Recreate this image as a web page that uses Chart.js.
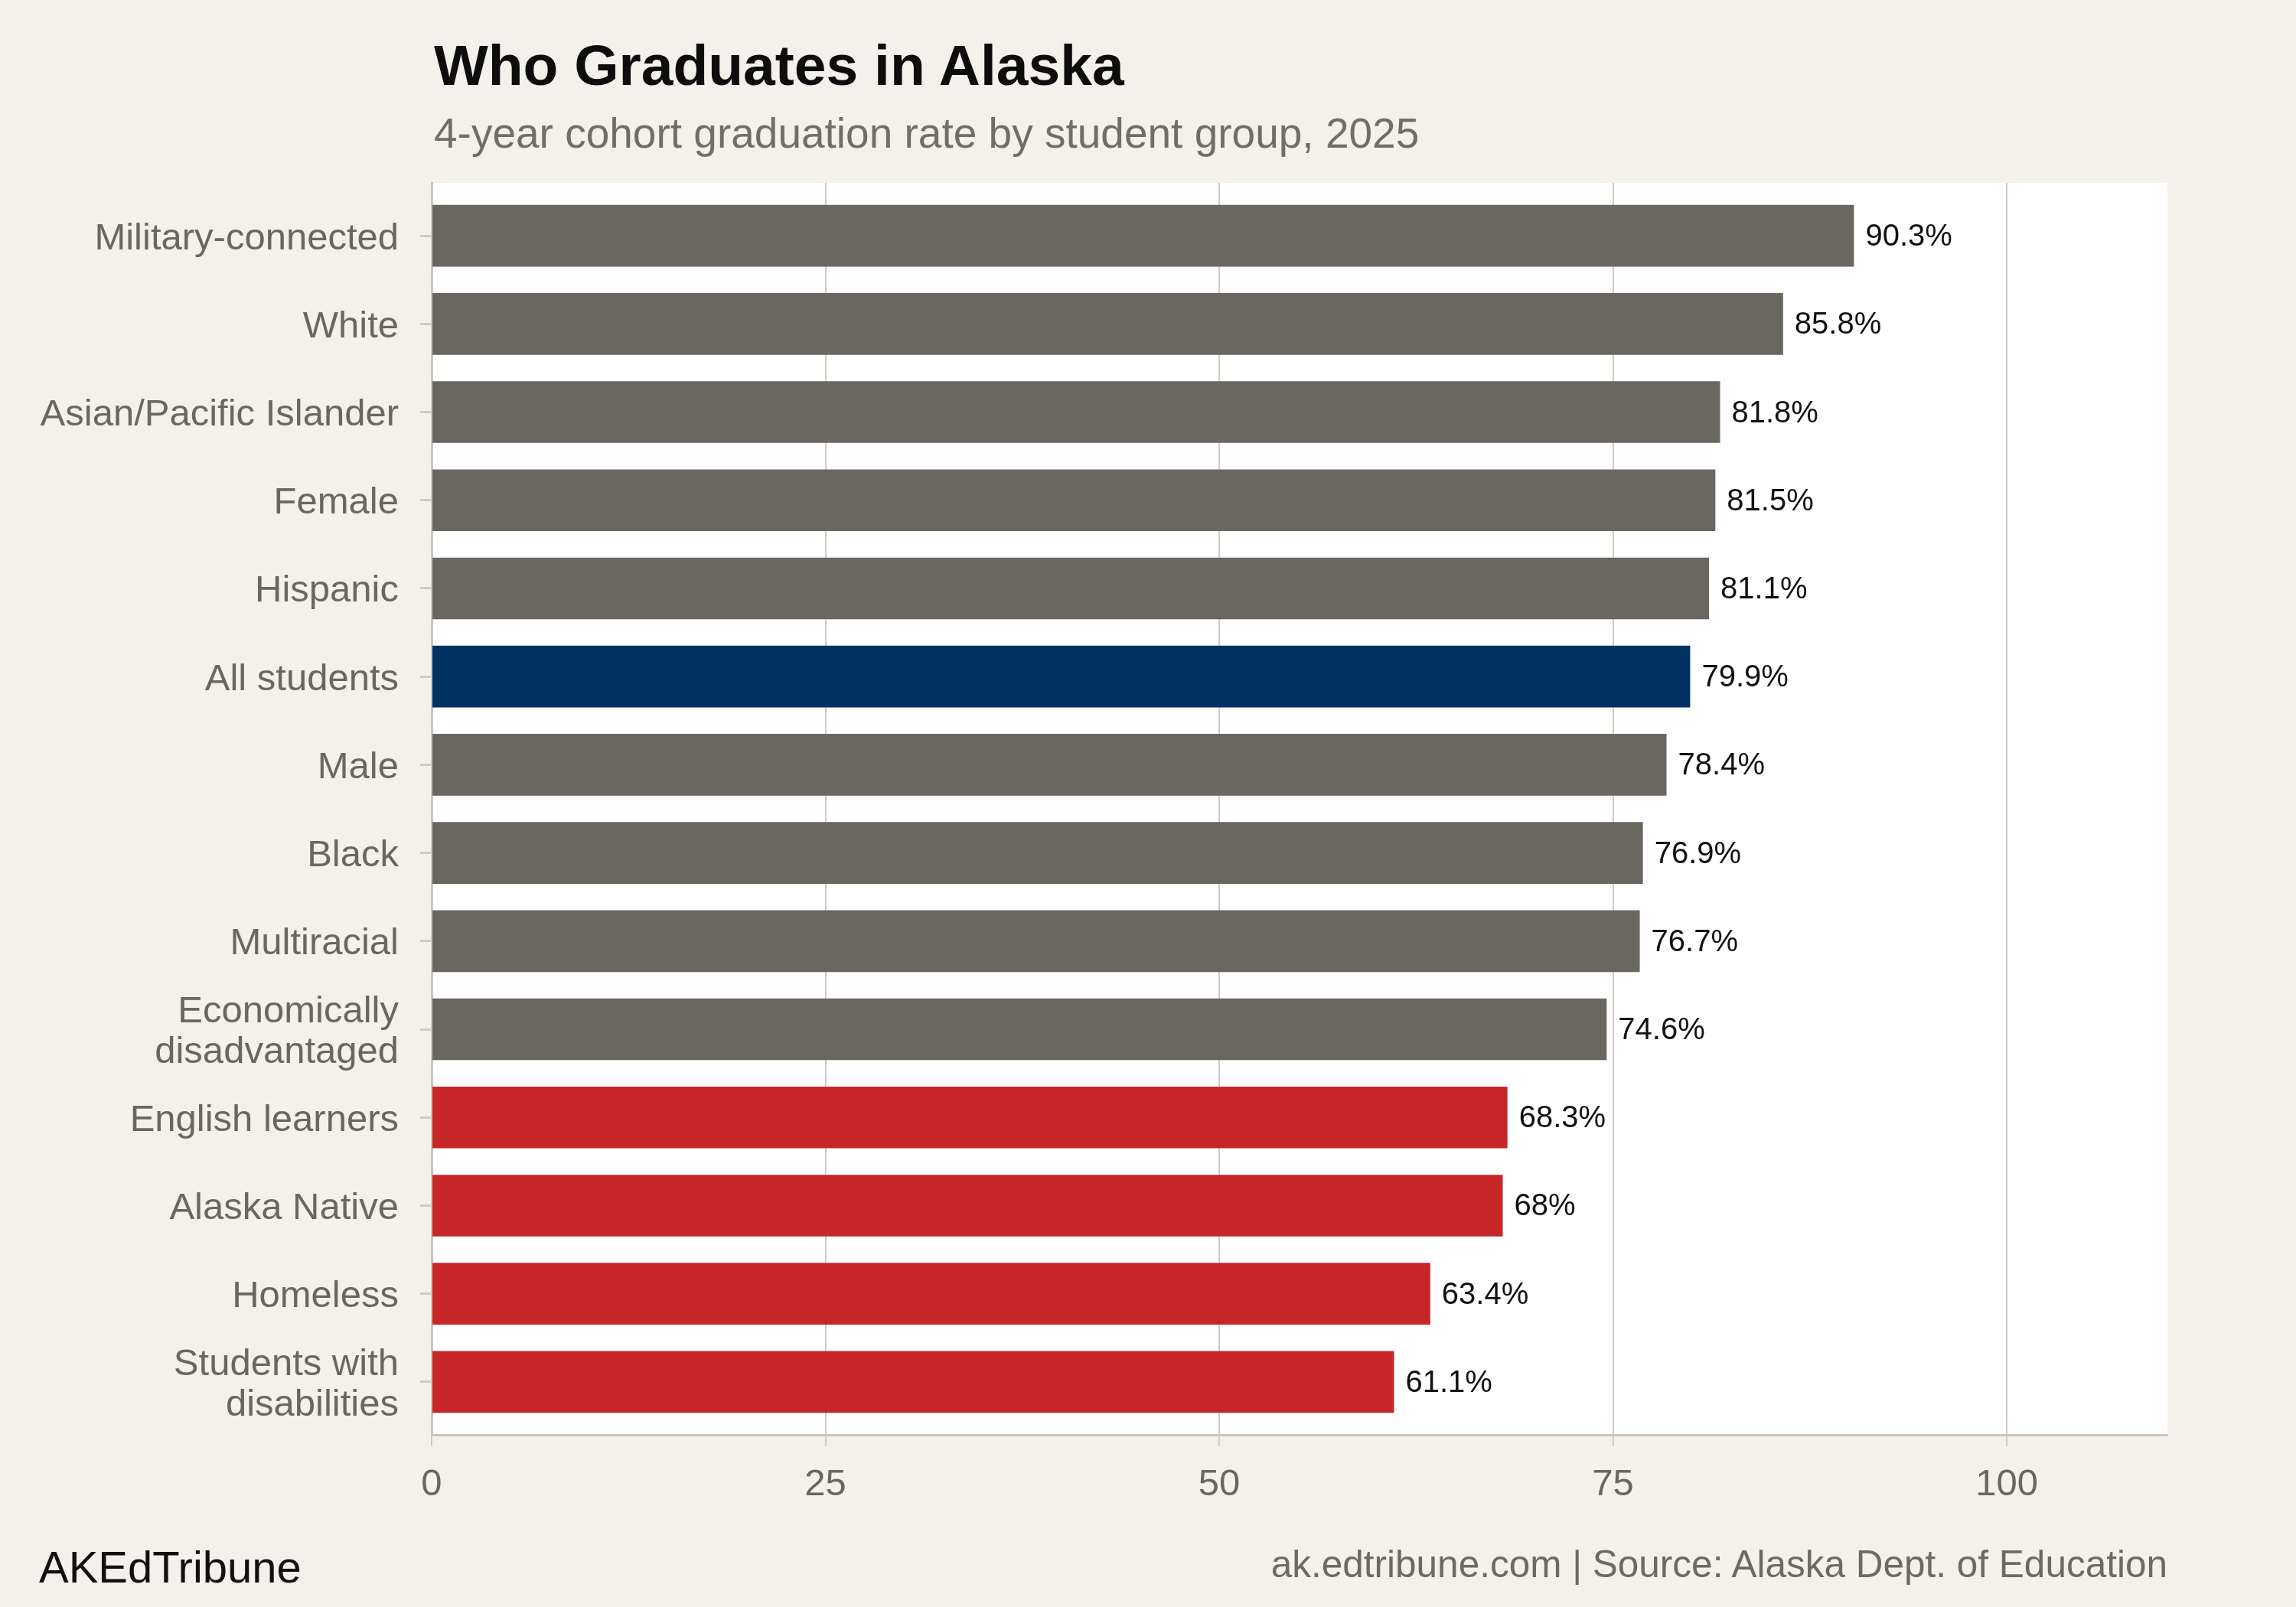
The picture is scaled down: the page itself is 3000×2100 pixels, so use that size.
<!DOCTYPE html>
<html>
<head>
<meta charset="utf-8">
<script src="https://cdn.jsdelivr.net/npm/chart.js@4/dist/chart.umd.min.js"></script>
<style>
  html, body { margin: 0; padding: 0; background: #f4f1ec; }
  #wrap { position: relative; width: 3000px; height: 2100px; background: #f4f1ec; font-family: "Liberation Sans", Arial, Helvetica, sans-serif; }
  #chart { position: absolute; left: 0; top: 0; }
  .txt { position: absolute; white-space: nowrap; line-height: 1; }
  #title { left: 567px; top: 48px; font-size: 75px; font-weight: bold; color: #0d0d0d; }
  #subtitle { left: 567px; top: 147px; font-size: 55px; color: #726d68; }
  #source { right: 168px; top: 2019px; font-size: 49.5px; color: #6e6964; }
  #brand { left: 51px; top: 2019px; font-size: 58px; color: #111111; }
</style>
</head>
<body>
<div id="wrap">
  <canvas id="chart" width="3000" height="2100"></canvas>
  <div class="txt" id="title">Who Graduates in Alaska</div>
  <div class="txt" id="subtitle">4-year cohort graduation rate by student group, 2025</div>
  <div class="txt" id="source">ak.edtribune.com | Source: Alaska Dept. of Education</div>
  <div class="txt" id="brand">AKEdTribune</div>
</div>
<script>
// ---- Data ----
const categories = [
  "Military-connected", "White", "Asian/Pacific Islander", "Female", "Hispanic",
  "All students", "Male", "Black", "Multiracial", ["Economically", "disadvantaged"],
  "English learners", "Alaska Native", "Homeless", ["Students with", "disabilities"]
];
const rates = [90.3, 85.8, 81.8, 81.5, 81.1, 79.9, 78.4, 76.9, 76.7, 74.6, 68.3, 68.0, 63.4, 61.1];
const rateLabels = ["90.3%", "85.8%", "81.8%", "81.5%", "81.1%", "79.9%", "78.4%", "76.9%", "76.7%", "74.6%", "68.3%", "68%", "63.4%", "61.1%"];
const groupKind = ["other", "other", "other", "other", "other", "all", "other", "other", "other", "other", "gap", "gap", "gap", "gap"];
const xTickValues = [0, 25, 50, 75, 100];

// ---- Styles ----
const kindColor = { other: "#6a6660", all: "#003262", gap: "#c62628" };
const FONT = '"Liberation Sans", Arial, Helvetica, sans-serif';

const plotBg = {
  id: "plotBg",
  beforeDraw(chart) {
    const { ctx, chartArea: a } = chart;
    ctx.save();
    ctx.fillStyle = "#ffffff";
    ctx.fillRect(a.left, a.top, a.right - a.left, a.bottom - a.top);
    ctx.restore();
  }
};

const valueLabels = {
  id: "valueLabels",
  afterDatasetsDraw(chart) {
    const { ctx } = chart;
    const meta = chart.getDatasetMeta(0);
    ctx.save();
    ctx.font = "40px " + FONT;
    ctx.fillStyle = "#111111";
    ctx.textAlign = "left";
    ctx.textBaseline = "middle";
    meta.data.forEach((bar, i) => {
      ctx.fillText(rateLabels[i], bar.x + 15, bar.y + 2);
    });
    ctx.restore();
  }
};

new Chart(document.getElementById("chart"), {
  type: "bar",
  data: {
    datasets: [{
      data: categories.map((c, i) => ({ x: rates[i], y: i })),
      backgroundColor: groupKind.map(k => kindColor[k]),
      borderWidth: 0,
      barPercentage: 0.7,
      categoryPercentage: 1.0
    }]
  },
  options: {
    indexAxis: "y",
    responsive: false,
    animation: false,
    devicePixelRatio: 1,
    layout: { padding: { left: 0, right: 168, top: 239, bottom: 0 } },
    plugins: { legend: { display: false }, tooltip: { enabled: false } },
    scales: {
      x: {
        type: "linear",
        min: 0,
        max: 110.2,
        offset: false,
        afterBuildTicks(scale) { scale.ticks = xTickValues.map(v => ({ value: v })); },
        afterFit(scale) { scale.height = 225; },
        ticks: {
          font: { family: FONT, size: 49 },
          color: "#6b6661",
          padding: 21,
          callback: v => String(v)
        },
        grid: {
          offset: false,
          color: "#d0ccc5",
          lineWidth: 2,
          tickLength: 15,
          tickColor: "#d0ccc5",
          tickWidth: 2
        },
        border: { display: true, color: "#cbc6be", width: 3 }
      },
      y: {
        type: "linear",
        reverse: true,
        offset: false,
        min: -0.6,
        max: categories.length - 1 + 0.6,
        afterBuildTicks(scale) { scale.ticks = categories.map((c, i) => ({ value: i })); },
        afterFit(scale) { scale.width = 564; },
        ticks: {
          font: { family: FONT, size: 49, lineHeight: 1.08 },
          color: "#6b6661",
          padding: 28,
          labelOffset: 4,
          autoSkip: false,
          callback: v => categories[v]
        },
        grid: {
          offset: false,
          drawOnChartArea: false,
          drawTicks: true,
          tickLength: 15,
          tickColor: "#cfcac2",
          tickWidth: 3
        },
        border: { display: true, color: "#cbc6be", width: 3 }
      }
    }
  },
  plugins: [plotBg, valueLabels]
});
</script>
</body>
</html>
